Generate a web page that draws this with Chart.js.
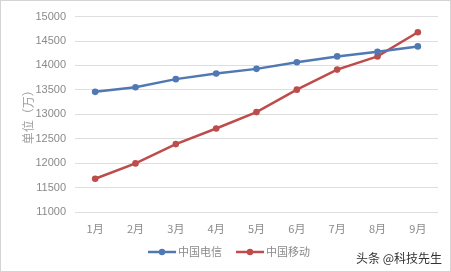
<!DOCTYPE html>
<html><head><meta charset="utf-8">
<script src="https://cdn.jsdelivr.net/npm/chart.js@4/dist/chart.umd.min.js"></script>
<style>
html,body{margin:0;padding:0;background:#fff;}
#wrap{position:relative;width:451px;height:272px;box-sizing:border-box;border:1px solid #d4d4d4;}
#wm{position:absolute;right:8px;bottom:5px;font:12px "Noto Sans CJK SC",sans-serif;color:#333;}
</style></head><body>
<div id="wrap"><canvas id="c" width="449" height="270"></canvas><div id="wm">头条 @科技先生</div></div>
<script>
const categories = ["1月","2月","3月","4月","5月","6月","7月","8月","9月"];
const telecom = [13460,13555,13720,13835,13930,14065,14185,14280,14390];
const mobile = [11680,11995,12390,12710,13045,13505,13915,14185,14680];
const seriesNames = ["中国电信","中国移动"];
const yTicks = [11000,11500,12000,12500,13000,13500,14000,14500,15000];
const blue = "#5079b4", red = "#bd4d4b", textCol = "#8a8a8a";

const legendPlugin = {
  id: "lineLegend",
  afterDraw(chart){
    const ctx = chart.ctx;
    ctx.save();
    ctx.font = '11px "Noto Sans CJK SC", sans-serif';
    ctx.textBaseline = "middle";
    const y = 251;
    let x = 147;
    chart.data.datasets.forEach(ds=>{
      ctx.strokeStyle = ds.borderColor; ctx.lineWidth = 2.5;
      ctx.beginPath(); ctx.moveTo(x, y); ctx.lineTo(x+28, y); ctx.stroke();
      ctx.fillStyle = ds.borderColor;
      ctx.beginPath(); ctx.arc(x+14, y, 3.2, 0, Math.PI*2); ctx.fill();
      ctx.fillStyle = textCol;
      ctx.fillText(ds.label, x+30, y);
      x += 30 + ctx.measureText(ds.label).width + 14;
    });
    ctx.restore();
  }
};

new Chart(document.getElementById("c"), {
  type: "line",
  data: {
    labels: categories,
    datasets: [
      {label: seriesNames[0], data: telecom, borderColor: blue, backgroundColor: blue, borderWidth: 2.5, pointRadius: 3.3, pointBackgroundColor: blue, pointBorderWidth: 0, tension: 0},
      {label: seriesNames[1], data: mobile, borderColor: red, backgroundColor: red, borderWidth: 2.5, pointRadius: 3.3, pointBackgroundColor: red, pointBorderWidth: 0, tension: 0}
    ]
  },
  options: {
    responsive: false,
    animation: false,
    layout: {padding: {left: 20, right: 12, top: 6, bottom: 34}},
    plugins: {legend: {display: false}, tooltip: {enabled: false}},
    scales: {
      x: {
        offset: true,
        grid: {display: false, drawTicks: false, offset: true},
        border: {display: false},
        ticks: {color: textCol, font: {family: '"Noto Sans CJK SC", sans-serif', size: 11}, padding: 10, maxRotation: 0},
        afterFit(s){ s.height = 25; }
      },
      y: {
        min: 11000, max: 15000,
        afterBuildTicks(s){ s.ticks = yTicks.map(v=>({value:v})); },
        grid: {color: "#dedede", lineWidth: 1, drawTicks: false},
        border: {display: false},
        ticks: {color: textCol, font: {family: '"Liberation Sans", sans-serif', size: 11}, padding: 9, callback: v => String(v)},
        title: {display: true, text: "单位（万）", color: "#a0a0a0", font: {family: '"Noto Sans CJK SC", serif', size: 12}, padding: {top: 0, bottom: 6}},
        afterFit(s){ s.width = 54; }
      }
    }
  },
  plugins: [legendPlugin]
});
</script>
</body></html>
